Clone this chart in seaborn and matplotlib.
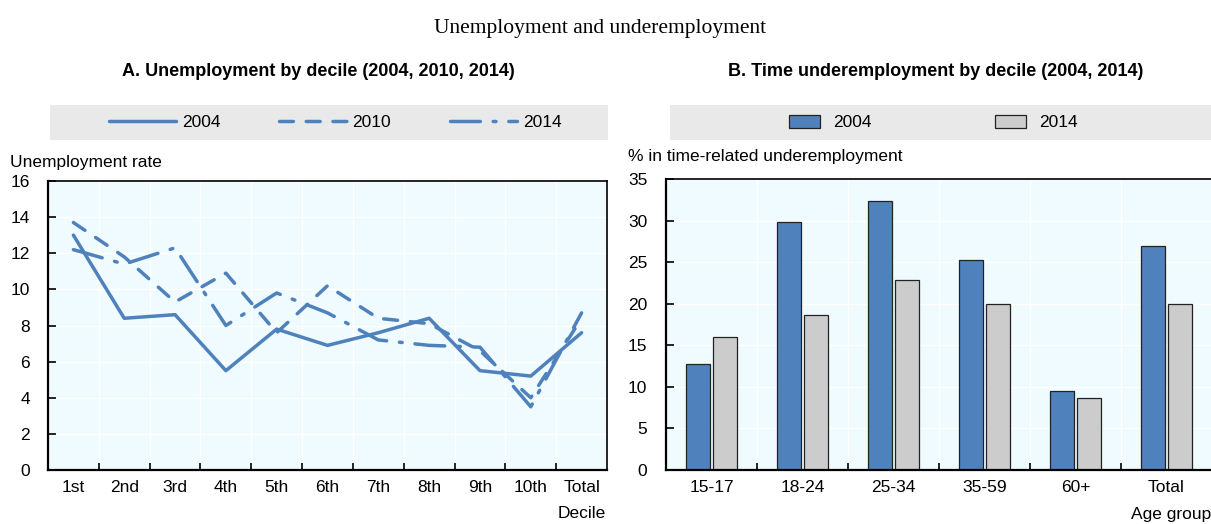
import numpy as np
import pandas as pd
import seaborn as sns
import matplotlib
matplotlib.use('agg')
import matplotlib.pyplot as plt
from matplotlib.patches import Rectangle, Patch
from matplotlib.ticker import FixedLocator, MultipleLocator

# data
deciles = ["1st", "2nd", "3rd", "4th", "5th", "6th", "7th", "8th", "9th", "10th", "Total"]
rate_2004 = [13.0, 8.4, 8.6, 5.5, 7.8, 6.9, 7.6, 8.4, 5.5, 5.2, 7.6]
rate_2010 = [13.7, 11.8, 9.3, 10.9, 7.6, 10.2, 8.4, 8.1, 6.6, 4.0, 8.4]
rate_2014 = [12.2, 11.4, 12.3, 8.0, 9.8, 8.7, 7.2, 6.9, 6.8, 3.5, 8.7]

age_groups = ["15-17", "18-24", "25-34", "35-59", "60+", "Total"]
under_2004 = [12.7, 29.8, 32.3, 25.2, 9.5, 26.9]
under_2014 = [16.0, 18.7, 22.9, 20.0, 8.6, 20.0]

BLUE = "#4F81BD"
GRAY = "#CCCCCC"
BG = "#EFFBFE"
LEG_BG = "#E9E9E9"

sns.set_theme(style="white")
plt.rcParams['font.family'] = ['Liberation Sans Narrow', 'Liberation Sans', 'DejaVu Sans']
plt.rcParams['text.color'] = 'black'
plt.rcParams['xtick.color'] = 'black'
plt.rcParams['ytick.color'] = 'black'
FS = 12.5

W, H = 1211, 524
fig = plt.figure(figsize=(W / 100, H / 100), dpi=100)


def fx(px):
    return px / W


def fy(py):
    return 1 - py / H


ax1 = fig.add_axes([fx(48), fy(470), fx(559), 289 / H])
ax2 = fig.add_axes([fx(666), fy(470), fx(546), 291 / H])

# ---- panel A: lines
line_df = pd.DataFrame({
    "decile": deciles * 3,
    "rate": rate_2004 + rate_2010 + rate_2014,
    "year": ["2004"] * 11 + ["2010"] * 11 + ["2014"] * 11,
})
sns.lineplot(data=line_df, x="decile", y="rate", style="year", color=BLUE,
             dashes={"2004": "", "2010": (4.0, 3.7), "2014": (8.6, 3.7, 0.8, 3.7)},
             linewidth=2.5, sort=False, legend=False, ax=ax1)
for ln in ax1.lines:
    ln.set_dash_capstyle("round")
    ln.set_solid_capstyle("round")

ax1.set_xlim(-0.5, 10.5)
ax1.set_ylim(0, 16)
ax1.yaxis.set_major_locator(MultipleLocator(2))
ax1.xaxis.set_minor_locator(FixedLocator(np.arange(0.5, 10.5, 1)))

# ---- panel B: bars
bar_df = pd.DataFrame({
    "age": age_groups * 2,
    "value": under_2004 + under_2014,
    "year": ["2004"] * 6 + ["2014"] * 6,
})
sns.barplot(data=bar_df, x="age", y="value", hue="year", palette=[BLUE, GRAY],
            saturation=1, width=0.59, gap=0.1, edgecolor="#222222", linewidth=0.9,
            legend=False, ax=ax2)
ax2.set_xlim(-0.5, 5.5)
ax2.set_ylim(0, 35)
ax2.yaxis.set_major_locator(MultipleLocator(5))
ax2.xaxis.set_minor_locator(FixedLocator(np.arange(0.5, 5.5, 1)))

for ax, ypad in ((ax1, 13), (ax2, 13.5)):
    ax.set_facecolor(BG)
    ax.set_xlabel("")
    ax.set_ylabel("")
    ax.grid(True, axis="y", which="major", color="white", linewidth=1)
    ax.grid(True, axis="x", which="minor", color="white", linewidth=1)
    ax.grid(False, axis="x", which="major")
    ax.set_axisbelow(True)
    for sp in ax.spines.values():
        sp.set_visible(True)
        sp.set_color("black")
        sp.set_linewidth(1.2)
    ax.spines["bottom"].set_linewidth(1.6)
    ax.spines["left"].set_linewidth(1.6)
    ax.tick_params(axis="x", which="major", length=0, pad=7, labelsize=FS, colors="black")
    ax.tick_params(axis="x", which="minor", direction="in", length=5, width=1.2,
                   color="black", bottom=True)
    ax.tick_params(axis="y", which="major", direction="in", length=6, width=1.2,
                   pad=ypad, labelsize=FS, colors="black", left=True)

# ---- legends
fig.add_artist(Rectangle((fx(50), fy(140)), fx(558), 35 / H, transform=fig.transFigure,
                         facecolor=LEG_BG, edgecolor="none", zorder=0))
fig.add_artist(Rectangle((fx(670), fy(140)), fx(545), 35 / H, transform=fig.transFigure,
                         facecolor=LEG_BG, edgecolor="none", zorder=0))

fig.legend(ax1.lines[:3], ["2004", "2010", "2014"], loc="center",
           bbox_to_anchor=(fx(335), fy(122.5)), ncol=3, frameon=False,
           fontsize=FS, handlelength=3.9, handletextpad=0.3, columnspacing=3.4)
bar_handles = [Patch(facecolor=BLUE, edgecolor="#222222", linewidth=0.9),
               Patch(facecolor=GRAY, edgecolor="#222222", linewidth=0.9)]
fig.legend(bar_handles, ["2004", "2014"], loc="center",
           bbox_to_anchor=(fx(933), fy(122.5)), ncol=2, frameon=False,
           fontsize=FS, handlelength=1.8, handleheight=0.75, handletextpad=0.75,
           columnspacing=7.1)

# ---- texts
fig.text(fx(600), fy(28), "Unemployment and underemployment", ha="center", va="center",
         family=["Liberation Serif", "DejaVu Serif"], fontsize=15.5)
fig.text(fx(318), fy(72), "A. Unemployment by decile (2004, 2010, 2014)", ha="center",
         va="center", fontsize=13, fontweight="bold")
fig.text(fx(936), fy(72), "B. Time underemployment by decile (2004, 2014)", ha="center",
         va="center", fontsize=13, fontweight="bold")
fig.text(fx(10), fy(162), "Unemployment rate", ha="left", va="center", fontsize=FS)
fig.text(fx(628), fy(157), "% in time-related underemployment", ha="left", va="center",
         fontsize=FS)
fig.text(fx(606), fy(514), "Decile", ha="right", va="center", fontsize=FS)
fig.text(fx(1211), fy(514), "Age group", ha="right", va="center", fontsize=FS)

fig.savefig("out.png", dpi=100)
